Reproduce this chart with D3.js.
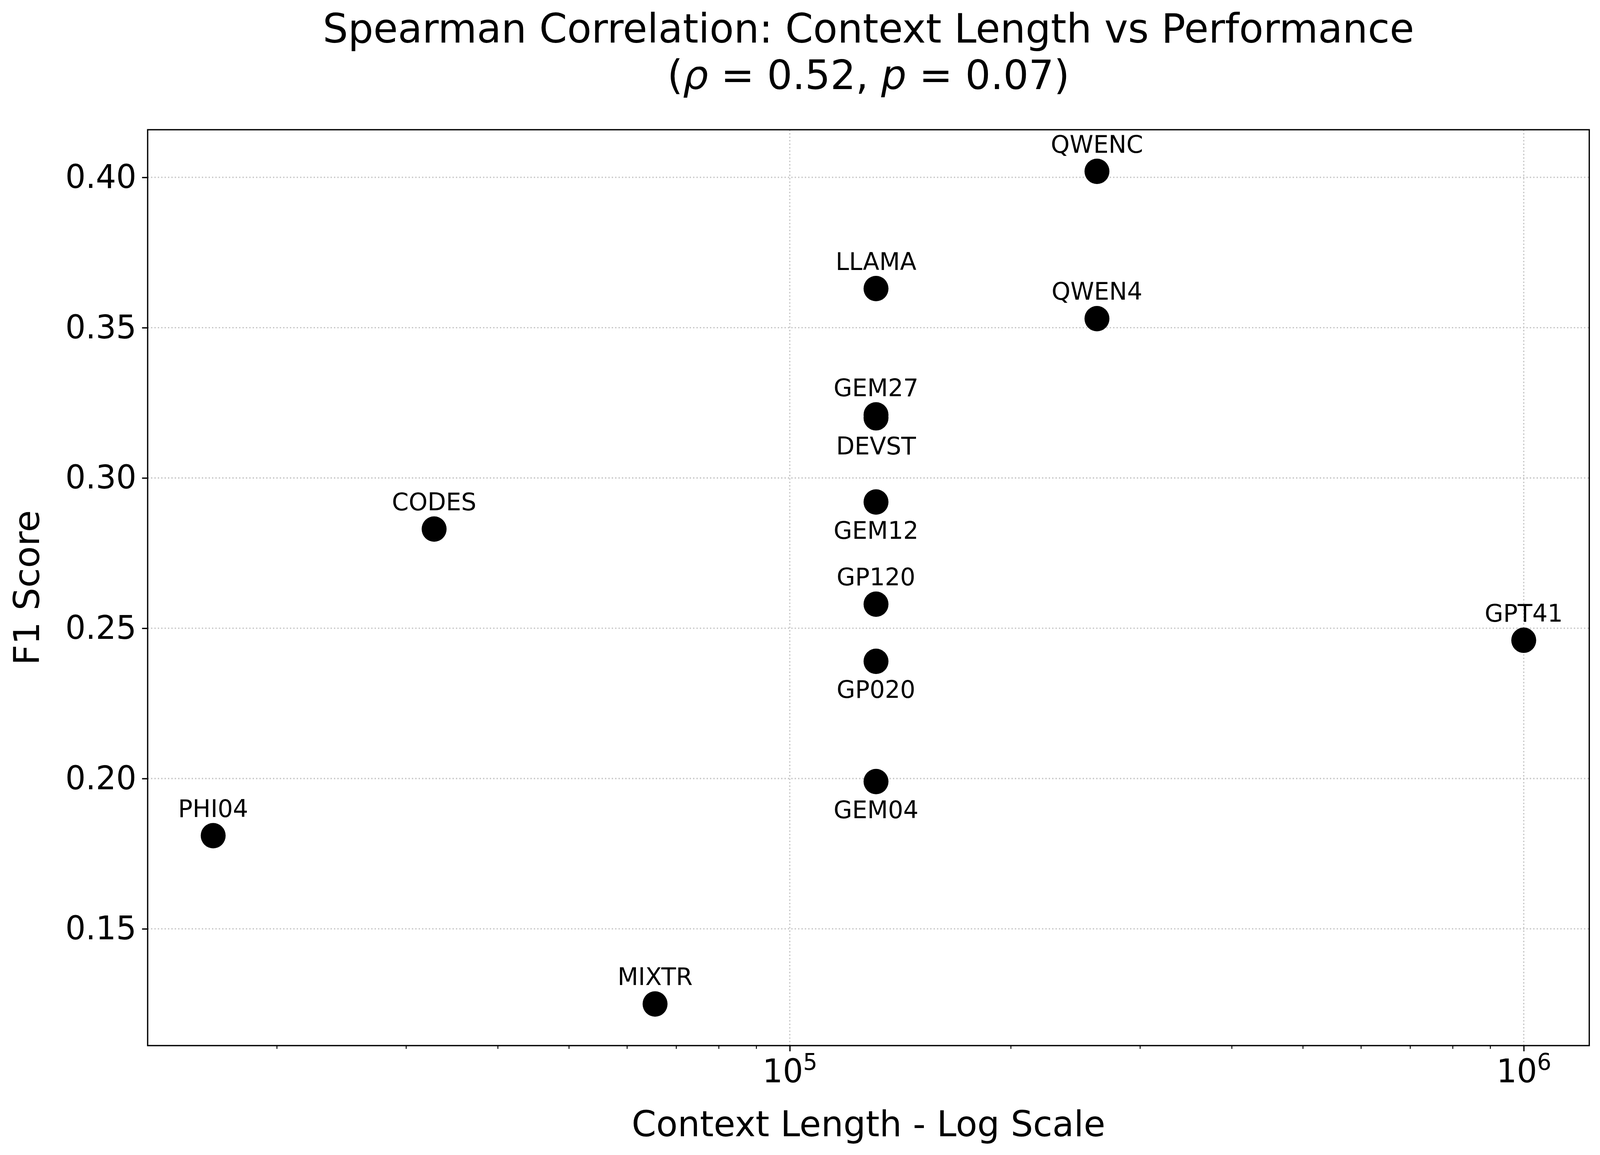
<!DOCTYPE html>
<html>
<head>
<meta charset="utf-8">
<script src="https://cdn.jsdelivr.net/npm/d3@7"></script>
<style>
  html, body { margin: 0; padding: 0; background: #ffffff; overflow: hidden; width: 100%; height: 100%; }
  svg { display: block; width: 100vw; height: 100vh; }
  text { font-family: "DejaVu Sans", sans-serif; fill: #000; }
</style>
</head>
<body>
<script>
// ---------------- data ----------------
const models  = ["PHI04", "CODES", "MIXTR", "LLAMA", "GEM27", "DEVST", "GEM12", "GP120", "GP020", "GEM04", "QWENC", "QWEN4", "GPT41"];
const context = [16384, 32768, 65536, 131072, 131072, 131072, 131072, 131072, 131072, 131072, 262144, 262144, 1000000];
const f1      = [0.181, 0.283, 0.125, 0.363, 0.321, 0.320, 0.292, 0.258, 0.239, 0.199, 0.402, 0.353, 0.246];
const labelsBelow = ["DEVST", "GEM12", "GP020", "GEM04"];
const yTicks  = [0.15, 0.20, 0.25, 0.30, 0.35, 0.40];
const xTicks  = [1e5, 1e6];
const xTickExponents = ["5", "6"];
const titleLine1 = "Spearman Correlation: Context Length vs Performance";
const rhoValue = "0.52", pValue = "0.07";
const xLabel = "Context Length - Log Scale";
const yLabel = "F1 Score";

// ---------------- layout ----------------
const W = 4172, H = 2956;
const plot = { left: 385, right: 4144, top: 332, bottom: 2676 };

const svg = d3.select("body").append("svg")
  .attr("viewBox", `0 0 ${W} ${H}`)
  .attr("preserveAspectRatio", "none");
svg.append("rect").attr("width", W).attr("height", H).attr("fill", "#fff");

// matplotlib-like 5% margins
const lx = d3.extent(context, d => Math.log10(d));
const lxPad = (lx[1] - lx[0]) * 0.05;
const x = d3.scaleLog()
  .domain([Math.pow(10, lx[0] - lxPad), Math.pow(10, lx[1] + lxPad)])
  .range([plot.left, plot.right]);
const ey = d3.extent(f1);
const yPad = (ey[1] - ey[0]) * 0.05;
const y = d3.scaleLinear()
  .domain([ey[0] - yPad, ey[1] + yPad])
  .range([plot.bottom, plot.top]);

const px = v => v * 300 / 72; // points -> pixels at 300 dpi
const tickFont = px(20), labelFont = px(22), titleFont = 104, annFont = px(15);
const gridColor = "#c4c4c4";

// ---------------- grid ----------------
const grid = svg.append("g");
grid.selectAll("line.gy").data(yTicks).join("line")
  .attr("x1", plot.left).attr("x2", plot.right)
  .attr("y1", d => y(d)).attr("y2", d => y(d))
  .attr("stroke", gridColor).attr("stroke-width", px(0.8))
  .attr("stroke-dasharray", `${px(0.8)},${px(1.32)}`);
grid.selectAll("line.gx").data(xTicks).join("line")
  .attr("y1", plot.top).attr("y2", plot.bottom)
  .attr("x1", d => x(d)).attr("x2", d => x(d))
  .attr("stroke", gridColor).attr("stroke-width", px(0.8))
  .attr("stroke-dasharray", `${px(0.8)},${px(1.32)}`);

// ---------------- points ----------------
const pts = models.map((m, i) => ({ m, c: context[i], f: f1[i] }));
svg.append("g").selectAll("circle").data(pts).join("circle")
  .attr("cx", d => x(d.c)).attr("cy", d => y(d.f))
  .attr("r", 32.5).attr("fill", "#000");

// annotations
svg.append("g").selectAll("text").data(pts).join("text")
  .attr("x", d => x(d.c))
  .attr("y", d => labelsBelow.includes(d.m) ? y(d.f) + 94 : y(d.f) - 48)
  .attr("text-anchor", "middle")
  .attr("font-size", annFont)
  .text(d => d.m);

// ---------------- axes ----------------
const gy = svg.append("g").attr("transform", `translate(${plot.left},0)`)
  .call(d3.axisLeft(y).tickValues(yTicks).tickFormat(d3.format(".2f"))
    .tickSize(px(3.5)).tickPadding(px(3.5)));
gy.select(".domain").remove();
gy.selectAll(".tick line").attr("stroke", "#000").attr("stroke-width", px(0.8));
gy.selectAll(".tick text").attr("font-size", tickFont).attr("font-family", "DejaVu Sans").attr("fill", "#000");

// minor x ticks
const minor = [];
for (let e = 4; e <= 6; e++) for (let k = 2; k <= 9; k++) {
  const v = k * Math.pow(10, e);
  if (v >= x.domain()[0] && v <= x.domain()[1]) minor.push(v);
}
const gxm = svg.append("g").attr("transform", `translate(0,${plot.bottom})`)
  .call(d3.axisBottom(x).tickValues(minor).tickFormat("").tickSize(px(2)));
gxm.select(".domain").remove();
gxm.selectAll(".tick line").attr("stroke", "#000").attr("stroke-width", px(0.6));

const gx = svg.append("g").attr("transform", `translate(0,${plot.bottom})`)
  .call(d3.axisBottom(x).tickValues(xTicks).tickFormat("").tickSize(px(3.5)));
gx.select(".domain").remove();
gx.selectAll(".tick line").attr("stroke", "#000").attr("stroke-width", px(0.8));
gx.selectAll(".tick text").remove();
gx.selectAll(".tick").each(function (d, i) {
  const t = d3.select(this).append("text")
    .attr("y", 94).attr("text-anchor", "middle")
    .attr("font-size", tickFont).attr("fill", "#000")
    .attr("font-family", "DejaVu Sans");
  t.append("tspan").text("10");
  t.append("tspan").attr("font-size", tickFont * 0.7).attr("dy", -32).text(xTickExponents[i]);
});

// spines
svg.append("rect")
  .attr("x", plot.left).attr("y", plot.top)
  .attr("width", plot.right - plot.left).attr("height", plot.bottom - plot.top)
  .attr("fill", "none").attr("stroke", "#000").attr("stroke-width", px(0.8));

// ---------------- labels ----------------
const cx = (plot.left + plot.right) / 2;
svg.append("text").attr("x", cx).attr("y", 2908)
  .attr("text-anchor", "middle").attr("font-size", labelFont).text(xLabel);
svg.append("text")
  .attr("transform", `translate(102,${(plot.top + plot.bottom) / 2}) rotate(-90)`)
  .attr("text-anchor", "middle").attr("font-size", labelFont).text(yLabel);

const title = svg.append("g");
title.append("text").attr("x", cx).attr("y", 109)
  .attr("text-anchor", "middle").attr("font-size", titleFont).text(titleLine1);
const t2 = title.append("text").attr("x", cx).attr("y", 228)
  .attr("text-anchor", "middle").attr("font-size", titleFont);
t2.append("tspan").text("(");
t2.append("tspan").attr("font-style", "italic").text("ρ");
t2.append("tspan").text(" = " + rhoValue + ", ");
t2.append("tspan").attr("font-style", "italic").text("p");
t2.append("tspan").text(" = " + pValue + ")");
</script>
</body>
</html>
